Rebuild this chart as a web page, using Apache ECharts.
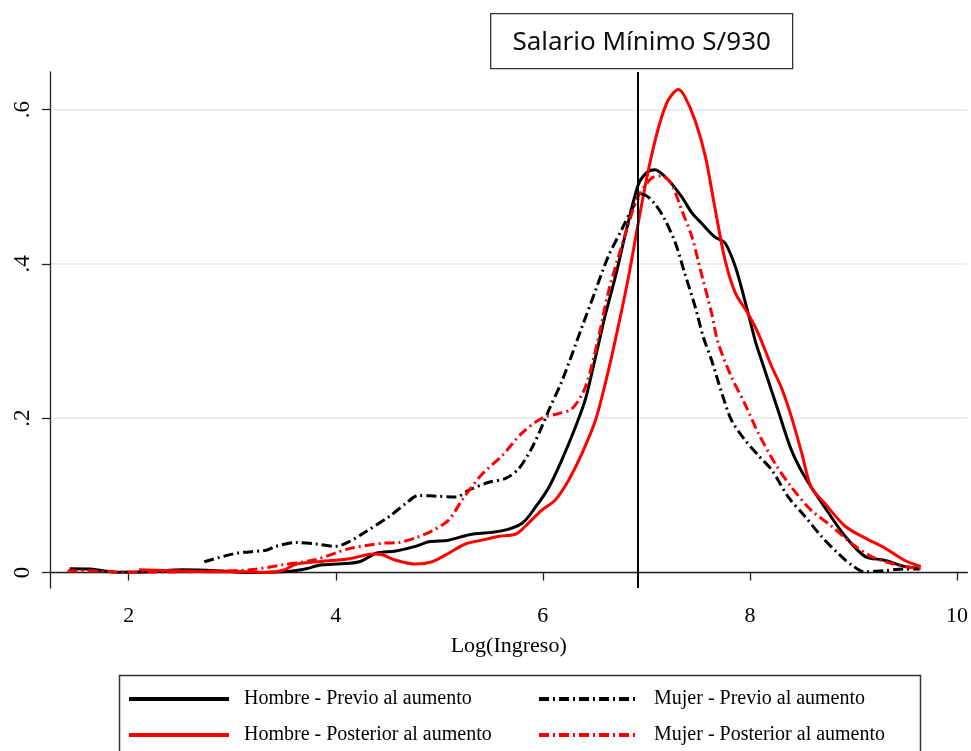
<!DOCTYPE html>
<html>
<head>
<meta charset="utf-8">
<script src="https://cdn.jsdelivr.net/npm/echarts@6/dist/echarts.min.js"></script>
<style>
  html, body { margin: 0; padding: 0; background: #fff; }
  #chart { width: 971px; height: 751px; }
</style>
</head>
<body>
<div id="chart"></div>
<script>
// [log income, density]
const hombrePrevio = [
    [1.43, 0.005], [1.63, 0.0045], [1.88, 0.0005], [2.2, 0.001], [2.52, 0.0035], [2.84, 0.0025],
    [3.17, 0.0], [3.49, 0.001], [3.68, 0.004], [3.87, 0.01], [4.13, 0.012], [4.25, 0.015],
    [4.39, 0.025], [4.58, 0.028], [4.77, 0.034], [4.9, 0.04], [5.09, 0.042], [5.29, 0.049],
    [5.6, 0.054], [5.8, 0.064], [5.93, 0.085], [6.06, 0.111], [6.19, 0.148], [6.31, 0.187],
    [6.41, 0.224], [6.51, 0.28], [6.6, 0.332], [6.7, 0.383], [6.8, 0.44], [6.92, 0.502],
    [7.0, 0.518], [7.08, 0.522], [7.21, 0.509], [7.34, 0.487], [7.44, 0.466], [7.53, 0.453],
    [7.66, 0.435], [7.76, 0.427], [7.86, 0.396], [7.95, 0.353], [8.05, 0.301], [8.08, 0.288],
    [8.27, 0.211], [8.4, 0.159], [8.53, 0.124], [8.72, 0.085], [8.92, 0.047], [9.11, 0.021],
    [9.3, 0.016], [9.49, 0.008], [9.62, 0.006]
];
const hombrePosterior = [
    [2.1, 0.0035], [2.52, 0.002], [2.84, 0.001], [3.17, 0.001], [3.33, 0.0], [3.49, 0.003],
    [3.62, 0.011], [3.81, 0.014], [4.13, 0.018], [4.36, 0.024], [4.45, 0.023], [4.58, 0.016],
    [4.77, 0.011], [4.93, 0.014], [5.09, 0.025], [5.25, 0.037], [5.41, 0.042], [5.58, 0.047],
    [5.74, 0.05], [5.83, 0.06], [5.99, 0.081], [6.12, 0.094], [6.25, 0.12], [6.38, 0.155],
    [6.51, 0.198], [6.63, 0.26], [6.73, 0.32], [6.83, 0.385], [6.92, 0.452], [7.02, 0.522],
    [7.12, 0.578], [7.21, 0.612], [7.31, 0.626], [7.37, 0.617], [7.47, 0.586], [7.57, 0.539],
    [7.66, 0.474], [7.76, 0.405], [7.86, 0.362], [7.98, 0.336], [8.08, 0.31], [8.21, 0.267],
    [8.3, 0.241], [8.4, 0.202], [8.5, 0.155], [8.59, 0.111], [8.72, 0.09], [8.92, 0.06],
    [9.11, 0.045], [9.3, 0.032], [9.49, 0.016], [9.65, 0.008]
];
const mujerPrevio = [
    [2.73, 0.014], [3.04, 0.025], [3.33, 0.029], [3.42, 0.034], [3.62, 0.039], [3.81, 0.037],
    [4.0, 0.034], [4.13, 0.04], [4.29, 0.053], [4.52, 0.073], [4.68, 0.09], [4.8, 0.1],
    [4.97, 0.099], [5.16, 0.098], [5.29, 0.107], [5.48, 0.117], [5.64, 0.122], [5.77, 0.135],
    [5.9, 0.163], [5.99, 0.189], [6.06, 0.211], [6.19, 0.25], [6.38, 0.319], [6.51, 0.366],
    [6.63, 0.409], [6.76, 0.444], [6.89, 0.478], [6.97, 0.49], [7.08, 0.478], [7.18, 0.457],
    [7.28, 0.427], [7.37, 0.388], [7.47, 0.345], [7.55, 0.305], [7.63, 0.275], [7.73, 0.232],
    [7.82, 0.198], [7.95, 0.172], [8.08, 0.152], [8.21, 0.133], [8.37, 0.098], [8.53, 0.073],
    [8.69, 0.047], [8.85, 0.025], [8.98, 0.01], [9.11, 0.001], [9.3, 0.0025], [9.49, 0.0045],
    [9.64, 0.0045]
];
const mujerPosterior = [
    [1.41, 0.0025], [1.7, 0.002], [2.0, 0.0005], [2.5, 0.001], [2.84, 0.002], [3.17, 0.0035],
    [3.49, 0.01], [3.81, 0.017], [4.13, 0.031], [4.45, 0.038], [4.61, 0.039], [4.77, 0.045],
    [4.93, 0.054], [5.09, 0.068], [5.22, 0.094], [5.41, 0.127], [5.61, 0.152], [5.8, 0.181],
    [5.99, 0.2], [6.15, 0.206], [6.28, 0.212], [6.41, 0.24], [6.54, 0.306], [6.63, 0.362],
    [6.73, 0.409], [6.83, 0.453], [6.92, 0.487], [7.05, 0.511], [7.15, 0.514], [7.24, 0.504],
    [7.34, 0.47], [7.44, 0.435], [7.53, 0.388], [7.63, 0.336], [7.69, 0.299], [7.82, 0.254],
    [7.95, 0.219], [8.08, 0.181], [8.24, 0.142], [8.4, 0.111], [8.59, 0.081], [8.79, 0.06],
    [8.98, 0.038], [9.17, 0.021], [9.36, 0.012], [9.56, 0.0065], [9.65, 0.005]
];

const seriesNames = [
    "Hombre - Previo al aumento",
    "Hombre - Posterior al aumento",
    "Mujer - Previo al aumento",
    "Mujer - Posterior al aumento"
];
const xTicks = [2, 4, 6, 8, 10];
const yTicks = [0, 0.2, 0.4, 0.6];
const yTickLabels = ["0", ".2", ".4", ".6"];
const salarioMinimoLog = 6.92;
const salarioMinimoText = "Salario Mínimo S/930";

const serif = "'Liberation Serif', 'Times New Roman', serif";
const dashDot = [10, 4, 2, 4];

function lineSeries(name, data, color, dashed) {
    return {
        name: name,
        type: "line",
        data: data,
        symbol: "none",
        smooth: 0.3,
        lineStyle: { color: color, width: 3, type: dashed ? dashDot : "solid" },
        itemStyle: { color: color }
    };
}

const chart = echarts.init(document.getElementById("chart"));

const series = [
    lineSeries(seriesNames[0], hombrePrevio, "#000000", false),
    lineSeries(seriesNames[1], hombrePosterior, "#ff0000", false),
    lineSeries(seriesNames[2], mujerPrevio, "#000000", true),
    lineSeries(seriesNames[3], mujerPosterior, "#ff0000", true)
];
series[0].markLine = {
    silent: true,
    symbol: "none",
    label: { show: false },
    lineStyle: { color: "#000000", width: 2, type: "solid" },
    data: [{ xAxis: salarioMinimoLog }]
};

// one legend per entry so the two columns line up like the original
function legendItem(name, left, top) {
    return {
        data: [name],
        left: left,
        top: top,
        itemWidth: 100,
        itemHeight: 14,
        lineStyle: { width: 4 },
        itemStyle: { opacity: 0 },
        textStyle: { fontFamily: serif, fontSize: 20, color: "#000", padding: [0, 0, 0, 10] },
        selectedMode: false
    };
}

chart.setOption({
    animation: false,
    backgroundColor: "#ffffff",
    grid: { left: 50, right: 1, top: 72, bottom: 163 },
    xAxis: {
        type: "value",
        min: 1.24,
        max: 10.1,
        name: "Log(Ingreso)",
        nameLocation: "middle",
        nameGap: 47,
        nameTextStyle: { fontFamily: serif, fontSize: 22, color: "#000" },
        axisLine: { lineStyle: { color: "#222", width: 1.3 } },
        axisTick: { length: 8, customValues: xTicks, lineStyle: { color: "#222", width: 1.3 } },
        axisLabel: { customValues: xTicks, margin: 17, fontFamily: serif, fontSize: 22, color: "#000" },
        splitLine: { show: false }
    },
    yAxis: {
        type: "value",
        min: -0.02,
        max: 0.6486,
        axisLine: { show: true, lineStyle: { color: "#222", width: 1.3 } },
        axisTick: { show: true, length: 8, customValues: yTicks, lineStyle: { color: "#222", width: 1.3 } },
        axisLabel: {
            customValues: yTicks,
            rotate: 90,
            margin: 16,
            fontFamily: serif,
            fontSize: 23,
            color: "#000",
            formatter: function (value) {
                const i = yTicks.findIndex(function (t) { return Math.abs(t - value) < 1e-6; });
                return i >= 0 ? yTickLabels[i] : "";
            }
        },
        splitLine: { show: true, lineStyle: { color: "#e7eff1", width: 2 } }
    },
    legend: [
        legendItem(seriesNames[0], 122, 684),
        legendItem(seriesNames[1], 122, 720),
        legendItem(seriesNames[2], 532, 684),
        legendItem(seriesNames[3], 532, 720)
    ],
    graphic: [
        {
            type: "rect",
            left: 117,
            top: 673,
            shape: { width: 801, height: 90 },
            style: { fill: "none", stroke: "#333", lineWidth: 1.5 },
            z: -1
        },
        {
            type: "group",
            left: 490,
            top: 13,
            children: [
                {
                    type: "rect",
                    shape: { width: 302, height: 55 },
                    style: { fill: "#fff", stroke: "#333", lineWidth: 1.3 }
                },
                {
                    type: "text",
                    x: 151,
                    y: 29,
                    style: {
                        text: salarioMinimoText,
                        fontFamily: "'Noto Sans', 'Open Sans', sans-serif",
                        fontSize: 26,
                        fill: "#111",
                        align: "center",
                        verticalAlign: "middle"
                    }
                }
            ]
        }
    ],
    series: series
});
</script>
</body>
</html>
